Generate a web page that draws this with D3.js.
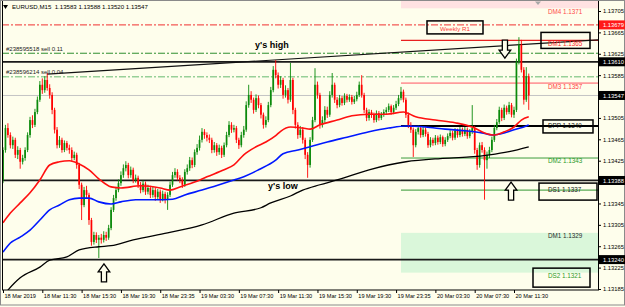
<!DOCTYPE html>
<html>
<head>
<meta charset="utf-8">
<script src="https://cdn.jsdelivr.net/npm/d3@7"></script>
<style>
body { margin: 0; background: #fff; }
svg text { font-family: "Liberation Sans", Arial, sans-serif; }
</style>
</head>
<body>
<div id="chart"></div>
<script>
// EURUSD M15, 18 Mar 07:30 .. 20 Mar 13:00
const open = [
1.13389,1.13445,1.13486,1.13473,1.13454,1.13464,1.13436,1.13445,1.13423,1.13430,
1.13445,1.13473,1.13501,1.13492,1.13516,1.13539,1.13567,1.13557,1.13576,1.13561,
1.13548,1.13520,1.13483,1.13454,1.13464,1.13445,1.13458,1.13449,1.13445,1.13430,
1.13436,1.13417,1.13380,1.13342,1.13370,1.13361,1.13314,1.13273,1.13286,1.13277,
1.13281,1.13277,1.13286,1.13281,1.13299,1.13333,1.13355,1.13370,1.13383,1.13398,
1.13411,1.13417,1.13398,1.13408,1.13389,1.13393,1.13380,1.13370,1.13382,1.13367,
1.13374,1.13361,1.13370,1.13357,1.13367,1.13353,1.13363,1.13352,1.13361,1.13380,
1.13398,1.13404,1.13393,1.13389,1.13380,1.13404,1.13411,1.13426,1.13417,1.13441,
1.13449,1.13464,1.13479,1.13473,1.13468,1.13464,1.13445,1.13454,1.13441,1.13449,
1.13436,1.13454,1.13473,1.13492,1.13483,1.13486,1.13464,1.13454,1.13473,1.13483,
1.13529,1.13548,1.13539,1.13520,1.13542,1.13529,1.13511,1.13492,1.13501,1.13529,
1.13557,1.13595,1.13585,1.13567,1.13576,1.13548,1.13557,1.13539,1.13576,1.13520,
1.13492,1.13473,1.13483,1.13464,1.13436,1.13417,1.13464,1.13501,1.13567,1.13548,
1.13492,1.13501,1.13520,1.13511,1.13548,1.13567,1.13539,1.13529,1.13542,1.13533,
1.13546,1.13539,1.13544,1.13535,1.13540,1.13548,1.13567,1.13548,1.13520,1.13505,
1.13516,1.13511,1.13501,1.13514,1.13505,1.13511,1.13516,1.13520,1.13527,1.13516,
1.13524,1.13531,1.13542,1.13554,1.13539,1.13511,1.13492,1.13483,1.13454,1.13479,
1.13486,1.13473,1.13483,1.13475,1.13454,1.13464,1.13458,1.13468,1.13460,1.13469,
1.13456,1.13464,1.13471,1.13477,1.13468,1.13481,1.13473,1.13483,1.13475,1.13483,
1.13471,1.13479,1.13486,1.13445,1.13417,1.13454,1.13445,1.13426,1.13436,1.13445,
1.13464,1.13486,1.13497,1.13520,1.13505,1.13524,1.13516,1.13529,1.13511,1.13520,
1.13610,1.13642,1.13595,1.13539,1.13583];

const high = [
1.13450,1.13492,1.13495,1.13478,1.13470,1.13468,1.13452,1.13449,1.13436,1.13450,
1.13478,1.13507,1.13510,1.13522,1.13545,1.13574,1.13579,1.13583,1.13589,1.13568,
1.13553,1.13524,1.13488,1.13471,1.13468,1.13463,1.13462,1.13455,1.13450,1.13442,
1.13440,1.13421,1.13384,1.13376,1.13378,1.13365,1.13318,1.13292,1.13291,1.13286,
1.13288,1.13293,1.13292,1.13305,1.13338,1.13361,1.13376,1.13390,1.13405,1.13418,
1.13424,1.13421,1.13414,1.13412,1.13399,1.13397,1.13385,1.13388,1.13386,1.13380,
1.13378,1.13376,1.13374,1.13372,1.13371,1.13369,1.13367,1.13366,1.13386,1.13404,
1.13411,1.13409,1.13398,1.13394,1.13409,1.13418,1.13432,1.13431,1.13446,1.13456,
1.13472,1.13486,1.13484,1.13478,1.13474,1.13468,1.13460,1.13458,1.13455,1.13453,
1.13459,1.13479,1.13499,1.13497,1.13492,1.13490,1.13468,1.13479,1.13490,1.13536,
1.13567,1.13555,1.13543,1.13549,1.13547,1.13533,1.13515,1.13508,1.13535,1.13563,
1.13602,1.13613,1.13590,1.13583,1.13580,1.13566,1.13561,1.13608,1.13580,1.13524,
1.13497,1.13490,1.13488,1.13468,1.13441,1.13469,1.13507,1.13598,1.13573,1.13552,
1.13508,1.13527,1.13526,1.13555,1.13589,1.13571,1.13544,1.13548,1.13546,1.13551,
1.13550,1.13549,1.13548,1.13546,1.13554,1.13573,1.13585,1.13552,1.13524,1.13521,
1.13520,1.13515,1.13519,1.13518,1.13516,1.13521,1.13525,1.13532,1.13530,1.13529,
1.13537,1.13548,1.13563,1.13558,1.13543,1.13515,1.13497,1.13487,1.13484,1.13491,
1.13490,1.13488,1.13487,1.13479,1.13469,1.13468,1.13473,1.13472,1.13474,1.13472,
1.13469,1.13476,1.13482,1.13481,1.13486,1.13485,1.13488,1.13487,1.13488,1.13487,
1.13484,1.13529,1.13490,1.13449,1.13459,1.13460,1.13450,1.13442,1.13451,1.13470,
1.13492,1.13503,1.13526,1.13524,1.13530,1.13528,1.13535,1.13533,1.13526,1.13616,
1.13656,1.13651,1.13600,1.13600,1.13588];

const low = [
1.13383,1.13440,1.13468,1.13448,1.13447,1.13430,1.13428,1.13410,1.13418,1.13425,
1.13441,1.13468,1.13486,1.13488,1.13512,1.13535,1.13550,1.13552,1.13556,1.13541,
1.13512,1.13476,1.13448,1.13449,1.13440,1.13441,1.13444,1.13438,1.13424,1.13426,
1.13410,1.13372,1.13314,1.13338,1.13355,1.13305,1.13266,1.13268,1.13271,1.13243,
1.13270,1.13272,1.13275,1.13277,1.13295,1.13329,1.13350,1.13366,1.13378,1.13393,
1.13405,1.13392,1.13393,1.13383,1.13384,1.13374,1.13364,1.13366,1.13361,1.13362,
1.13355,1.13356,1.13350,1.13352,1.13346,1.13349,1.13345,1.13333,1.13357,1.13376,
1.13393,1.13388,1.13383,1.13374,1.13376,1.13399,1.13406,1.13411,1.13413,1.13436,
1.13444,1.13459,1.13466,1.13461,1.13458,1.13439,1.13440,1.13434,1.13436,1.13430,
1.13432,1.13450,1.13469,1.13477,1.13478,1.13458,1.13447,1.13450,1.13468,1.13479,
1.13524,1.13533,1.13513,1.13516,1.13523,1.13504,1.13485,1.13487,1.13497,1.13525,
1.13553,1.13579,1.13560,1.13561,1.13541,1.13543,1.13532,1.13535,1.13512,1.13485,
1.13466,1.13468,1.13457,1.13428,1.13393,1.13412,1.13460,1.13497,1.13541,1.13485,
1.13487,1.13496,1.13505,1.13507,1.13543,1.13533,1.13523,1.13525,1.13528,1.13529,
1.13534,1.13535,1.13530,1.13531,1.13536,1.13544,1.13543,1.13514,1.13499,1.13500,
1.13505,1.13496,1.13497,1.13500,1.13501,1.13507,1.13512,1.13516,1.13511,1.13512,
1.13520,1.13527,1.13538,1.13534,1.13505,1.13486,1.13477,1.13432,1.13450,1.13474,
1.13468,1.13469,1.13470,1.13449,1.13450,1.13453,1.13454,1.13455,1.13456,1.13451,
1.13452,1.13460,1.13467,1.13463,1.13464,1.13468,1.13469,1.13470,1.13471,1.13466,
1.13467,1.13475,1.13438,1.13408,1.13412,1.13440,1.13352,1.13410,1.13430,1.13441,
1.13460,1.13482,1.13493,1.13499,1.13501,1.13511,1.13512,1.13506,1.13505,1.13516,
1.13605,1.13590,1.13530,1.13535,1.13520];

const close = [
1.13445,1.13486,1.13473,1.13454,1.13464,1.13436,1.13445,1.13423,1.13430,1.13445,
1.13473,1.13501,1.13492,1.13516,1.13539,1.13567,1.13557,1.13576,1.13561,1.13548,
1.13520,1.13483,1.13454,1.13464,1.13445,1.13458,1.13449,1.13445,1.13430,1.13436,
1.13417,1.13380,1.13342,1.13370,1.13361,1.13314,1.13273,1.13286,1.13277,1.13281,
1.13277,1.13286,1.13281,1.13299,1.13333,1.13355,1.13370,1.13383,1.13398,1.13411,
1.13417,1.13398,1.13408,1.13389,1.13393,1.13380,1.13370,1.13382,1.13367,1.13374,
1.13361,1.13370,1.13357,1.13367,1.13353,1.13363,1.13352,1.13361,1.13380,1.13398,
1.13404,1.13393,1.13389,1.13380,1.13404,1.13411,1.13426,1.13417,1.13441,1.13449,
1.13464,1.13479,1.13473,1.13468,1.13464,1.13445,1.13454,1.13441,1.13449,1.13436,
1.13454,1.13473,1.13492,1.13483,1.13486,1.13464,1.13454,1.13473,1.13483,1.13529,
1.13548,1.13539,1.13520,1.13542,1.13529,1.13511,1.13492,1.13501,1.13529,1.13557,
1.13595,1.13585,1.13567,1.13576,1.13548,1.13557,1.13539,1.13576,1.13520,1.13492,
1.13473,1.13483,1.13464,1.13436,1.13417,1.13464,1.13501,1.13567,1.13548,1.13492,
1.13501,1.13520,1.13511,1.13548,1.13567,1.13539,1.13529,1.13542,1.13533,1.13546,
1.13539,1.13544,1.13535,1.13540,1.13548,1.13567,1.13548,1.13520,1.13505,1.13516,
1.13511,1.13501,1.13514,1.13505,1.13511,1.13516,1.13520,1.13527,1.13516,1.13524,
1.13531,1.13542,1.13554,1.13539,1.13511,1.13492,1.13483,1.13454,1.13479,1.13486,
1.13473,1.13483,1.13475,1.13454,1.13464,1.13458,1.13468,1.13460,1.13469,1.13456,
1.13464,1.13471,1.13477,1.13468,1.13481,1.13473,1.13483,1.13475,1.13483,1.13471,
1.13479,1.13486,1.13445,1.13417,1.13454,1.13445,1.13426,1.13436,1.13445,1.13464,
1.13486,1.13497,1.13520,1.13505,1.13524,1.13516,1.13529,1.13511,1.13520,1.13610,
1.13642,1.13595,1.13539,1.13583,1.13547];

// moving averages, [bar, price]
const redMa = [[0,1.13309],[3,1.13327],[7,1.13346],[11,1.13365],[15,1.13389],[19,1.13417],[23,1.13423],
  [27,1.13425],[31,1.13419],[35,1.13408],[39,1.13391],[44,1.13376],[48,1.13374],[56,1.13378],[64,1.13374],
  [68,1.13370],[72,1.13376],[78,1.13385],[83,1.13395],[90,1.13408],[94,1.13417],[98,1.13436],[103,1.13451],
  [107,1.13460],[111,1.13472],[113,1.13480],[117,1.13488],[122,1.13486],[125,1.13484],[129,1.13492],
  [136,1.13501],[142,1.13509],[149,1.13512],[156,1.13512],[163,1.13516],[168,1.13507],[176,1.13501],
  [184,1.13496],[191,1.13488],[196,1.13477],[200,1.13473],[204,1.13479],[208,1.13488],[211,1.13501],[214,1.13507]];
const blueMa = [[0,1.13254],[3,1.13271],[7,1.13282],[11,1.13295],[15,1.13314],[19,1.13333],[23,1.13342],
  [27,1.13352],[31,1.13355],[35,1.13355],[39,1.13348],[44,1.13344],[48,1.13348],[54,1.13352],[62,1.13352],
  [69,1.13353],[74,1.13361],[81,1.13370],[88,1.13380],[94,1.13389],[98,1.13395],[104,1.13408],[111,1.13426],
  [114,1.13438],[120,1.13445],[125,1.13451],[132,1.13460],[140,1.13469],[149,1.13479],[157,1.13486],
  [164,1.13490],[172,1.13488],[180,1.13484],[188,1.13481],[195,1.13477],[199,1.13473],[204,1.13477],
  [208,1.13483],[213,1.13490],[214,1.13492]];
const blackMa = [[0,1.13172],[2,1.13183],[7,1.13206],[15,1.13226],[19,1.13239],[26,1.13245],[31,1.13258],
  [39,1.13264],[44,1.13266],[53,1.13277],[67,1.13290],[81,1.13305],[94,1.13327],[105,1.13337],[109,1.13346],
  [117,1.13359],[122,1.13370],[129,1.13380],[136,1.13389],[149,1.13408],[164,1.13423],[178,1.13429],
  [190,1.13432],[198,1.13436],[206,1.13442],[214,1.13451]];

const tickBars = [0, 16, 32, 48, 64, 80, 96, 112, 128, 144, 160, 176, 192, 208];
const timeLabels = ['18 Mar 2019', '18 Mar 11:30', '18 Mar 15:30', '18 Mar 19:30', '18 Mar 23:35',
  '19 Mar 03:30', '19 Mar 07:30', '19 Mar 11:30', '19 Mar 15:30', '19 Mar 19:30', '19 Mar 23:35',
  '20 Mar 03:30', '20 Mar 07:30', '20 Mar 11:30'];
const priceTicks = [1.13705, 1.13665, 1.13625, 1.13585, 1.13505, 1.13465, 1.13425,
  1.13345, 1.13305, 1.13265, 1.13225, 1.13185];

const pivotNames = ['DM4', 'DM1', 'DM3', 'DPP', 'DM2', 'DS1', 'DM1', 'DS2'];
const pivotValues = [1.1371, 1.1365, 1.1357, 1.1349, 1.1343, 1.1337, 1.1329, 1.1321];
const pivotStartBar = 162;

const weeklyR1 = 1.13679;
const yHigh = 1.13610, yLow = 1.13388, swingLow = 1.13240, bid = 1.13547;
const orderNames = ['#238595518 sell 0.11', '#238596214 sell 0.04'];
const orderPrices = [1.13626, 1.13582];
const trendBars = [17.9, 242.2], trendPrices = [1.13587, 1.13651];
const arrowBars = [41.1, 204.3, 206.8];
const arrowPrices = [1.13232, 1.13617, 1.13385];
const arrowDirs = ['up', 'down', 'up'];
const header = 'EURUSD,M15  1.13583 1.13588 1.13520 1.13547';

const width = 625, height = 307;
const plotLeft = 2, plotTop = 1, plotRight = 598, plotBottom = 290;
const bg = '#fefeec', bull = '#0b8a0b', bear = '#ff0000';

const svg = d3.select('#chart').append('svg')
    .attr('width', width)
    .attr('height', height);

svg.append('rect').attr('width', width).attr('height', height).attr('fill', bg);

let x = d3.scaleLinear().domain([0, 208]).range([3, 514]);
let y = d3.scaleLinear().domain([1.13185, 1.13705]).range([289, 11]);

svg.append('clipPath').attr('id', 'clip')
    .append('rect')
    .attr('x', plotLeft).attr('y', plotTop)
    .attr('width', plotRight - plotLeft).attr('height', plotBottom - plotTop);

let plot_g = svg.append('g').attr('clip-path', 'url(#clip)');
const pivotX = x(pivotStartBar);

// zones
plot_g.append('rect')
    .attr('x', pivotX).attr('y', plotTop)
    .attr('width', plotRight - pivotX).attr('height', y(pivotValues[0]) - plotTop)
    .attr('fill', '#ffe2e2');
plot_g.append('rect')
    .attr('x', pivotX).attr('y', y(pivotValues[6]))
    .attr('width', plotRight - pivotX).attr('height', y(pivotValues[7]) - y(pivotValues[6]) - 3)
    .attr('fill', '#daf7da');

// pivot lines
const pivotLine = {1: ['#e82020', 1.4], 2: ['#ff9c9c', 1.6], 3: ['#000', 2], 4: ['#3c9c3c', 1], 5: ['#2f962f', 1]};
Object.keys(pivotLine).forEach(k => {
    plot_g.append('line')
        .attr('x1', pivotX).attr('x2', plotRight)
        .attr('y1', y(pivotValues[k])).attr('y2', y(pivotValues[k]))
        .attr('stroke', pivotLine[k][0]).attr('stroke-width', pivotLine[k][1]);
});

// weekly R1 and order lines
plot_g.append('line')
    .attr('x1', plotLeft).attr('x2', plotRight)
    .attr('y1', y(weeklyR1)).attr('y2', y(weeklyR1))
    .attr('stroke', '#f03030').attr('stroke-dasharray', '7,2,2,2');
const orderColors = ['#2f8f2f', '#98d098'];
orderPrices.forEach((p, k) => {
    plot_g.append('line')
        .attr('x1', plotLeft).attr('x2', plotRight)
        .attr('y1', y(p)).attr('y2', y(p))
        .attr('stroke', orderColors[k]).attr('stroke-width', k ? 1.4 : 1)
        .attr('stroke-dasharray', '7,2,2,2');
    svg.append('text')
        .attr('x', 6).attr('y', y(p) - 2.5)
        .attr('font-size', 6).attr('fill', '#222')
        .text(orderNames[k]);
});

plot_g.append('line')
    .attr('x1', plotLeft).attr('x2', plotRight)
    .attr('y1', y(bid)).attr('y2', y(bid))
    .attr('stroke', '#c4c4c4');

[yHigh, yLow, swingLow].forEach(p => {
    plot_g.append('line')
        .attr('x1', plotLeft).attr('x2', plotRight)
        .attr('y1', y(p)).attr('y2', y(p))
        .attr('stroke', '#1a1a1a').attr('stroke-width', 1.8);
});

plot_g.append('line')
    .attr('x1', x(trendBars[0])).attr('x2', x(trendBars[1]))
    .attr('y1', y(trendPrices[0])).attr('y2', y(trendPrices[1]))
    .attr('stroke', '#111').attr('stroke-width', 1.2);

// candles
let bars = close.map((c, i) => ({i: i, o: open[i], h: high[i], l: low[i], c: c}));
let candle_g = plot_g.append('g');
candle_g.selectAll('.wick')
    .data(bars)
    .join('line')
    .attr('class', 'wick')
    .attr('x1', d => x(d.i)).attr('x2', d => x(d.i))
    .attr('y1', d => y(d.h)).attr('y2', d => y(d.l))
    .attr('stroke', d => d.c >= d.o ? bull : bear)
    .attr('stroke-width', 0.9);
candle_g.selectAll('.body')
    .data(bars)
    .join('rect')
    .attr('class', 'body')
    .attr('x', d => x(d.i) - 0.85)
    .attr('width', 1.7)
    .attr('y', d => y(Math.max(d.o, d.c)))
    .attr('height', d => Math.max(1, Math.abs(y(d.o) - y(d.c))))
    .attr('fill', d => d.c >= d.o ? bull : bear);

// moving averages
let maLine = d3.line().x(d => x(d[0])).y(d => y(d[1])).curve(d3.curveMonotoneX);
[[blackMa, '#000', 1.3], [blueMa, '#0018ff', 1.6], [redMa, '#ff1010', 1.6]].forEach(m => {
    plot_g.append('path')
        .attr('d', maLine(m[0]))
        .attr('fill', 'none')
        .attr('stroke', m[1])
        .attr('stroke-width', m[2]);
});

// pivot labels
const labelX = plotRight - 50;
const labelStyle = {
    0: ['#ff4a4a', 5.5], 1: ['#ff3030', 5.5], 2: ['#ff4040', 5.5], 3: ['#111', 2.2],
    4: ['#2a9a2a', 5], 5: ['#1a1a1a', 2.2], 6: ['#2a2a2a', 5.5], 7: ['#2a9a2a', 2.2]
};
pivotNames.forEach((n, k) => {
    svg.append('text')
        .attr('x', labelX).attr('y', y(pivotValues[k]) + labelStyle[k][1])
        .attr('font-size', 6.3).attr('fill', labelStyle[k][0])
        .text(n + ' ' + pivotValues[k].toFixed(4));
});

// boxes drawn around labels: [pivot index, x0, x1, top offset, bottom offset]
[[1, 541, 590, -8, 8], [3, 543, 593, -6, 7], [5, 539, 597, -7, 10], [7, 533, 590, -7.5, 11.5]].forEach(b => {
    let py = y(pivotValues[b[0]]);
    svg.append('rect')
        .attr('x', b[1]).attr('y', py + b[3])
        .attr('width', b[2] - b[1]).attr('height', b[4] - b[3])
        .attr('fill', 'none').attr('stroke', '#000').attr('stroke-width', 1.5);
});
svg.append('rect')
    .attr('x', 427).attr('y', y(weeklyR1) - 4)
    .attr('width', 56).attr('height', 13)
    .attr('fill', 'none').attr('stroke', '#000').attr('stroke-width', 1.5);
svg.append('text')
    .attr('x', 455).attr('y', y(weeklyR1) + 6.5)
    .attr('text-anchor', 'middle')
    .attr('font-size', 6.2).attr('fill', '#ff3b3b')
    .text('Weekly R1');

svg.append('text')
    .attr('x', 255).attr('y', y(yHigh) - 14)
    .attr('font-size', 9).attr('font-weight', 'bold').attr('fill', '#000')
    .text("y's high");
svg.append('text')
    .attr('x', 268).attr('y', y(yLow) + 9)
    .attr('font-size', 9).attr('font-weight', 'bold').attr('fill', '#000')
    .text("y's low");

// arrows
const arrowPath = 'M0,0 L5.8,8 L2.6,8 L2.6,18 L-2.6,18 L-2.6,8 L-5.8,8 Z';
arrowBars.forEach((b, k) => {
    svg.append('path')
        .attr('d', arrowPath)
        .attr('transform', `translate(${x(b)},${y(arrowPrices[k])})` + (arrowDirs[k] === 'down' ? ' scale(1,-1)' : ''))
        .attr('fill', bg).attr('stroke', '#000').attr('stroke-width', 1.3);
});

// frame
svg.append('rect')
    .attr('x', plotLeft + 0.5).attr('y', plotTop - 0.5)
    .attr('width', plotRight - plotLeft).attr('height', plotBottom - plotTop + 0.5)
    .attr('fill', 'none').attr('stroke', '#000');
svg.append('rect')
    .attr('x', 0.5).attr('y', 0.5)
    .attr('width', width - 1).attr('height', height - 2.5)
    .attr('fill', 'none').attr('stroke', '#8a8a8a');

// price axis
let yAxis = svg.append('g')
    .attr('transform', `translate(${plotRight},0)`)
    .call(d3.axisRight(y).tickValues(priceTicks).tickSize(3).tickPadding(2).tickFormat(d3.format('.5f')));
yAxis.select('.domain').remove();
yAxis.selectAll('text').attr('font-size', 5.8).attr('fill', '#000');

const markers = [[weeklyR1, '#ff1a1a'], [yHigh, '#000'], [bid, '#000'], [yLow, '#000'], [swingLow, '#000']];
markers.forEach(m => {
    svg.append('rect')
        .attr('x', plotRight + 1).attr('y', y(m[0]) - 4.5)
        .attr('width', width - plotRight - 1).attr('height', 9)
        .attr('fill', m[1]);
    svg.append('text')
        .attr('x', plotRight + 5).attr('y', y(m[0]) + 2.1)
        .attr('font-size', 5.8).attr('fill', '#fff')
        .text(m[0].toFixed(5));
});

// time axis
let xAxis = svg.append('g')
    .attr('transform', `translate(0,${plotBottom})`)
    .call(d3.axisBottom(x).tickValues(tickBars).tickSize(3).tickPadding(1)
        .tickFormat((d, k) => timeLabels[k]));
xAxis.select('.domain').remove();
xAxis.selectAll('text')
    .attr('text-anchor', 'start').attr('x', 1)
    .attr('font-size', 5.6).attr('fill', '#000');

// header
svg.append('path').attr('d', 'M3,5 L8,5 L5.5,9 Z').attr('fill', '#000');
svg.append('text')
    .attr('x', 12).attr('y', 9)
    .attr('font-size', 6.1).attr('fill', '#000')
    .attr('xml:space', 'preserve').style('white-space', 'pre')
    .text(header);
svg.append('path').attr('d', 'M535,1.5 L541,1.5 L538,5 Z').attr('fill', '#a8a8a8');
</script>
</body>
</html>
